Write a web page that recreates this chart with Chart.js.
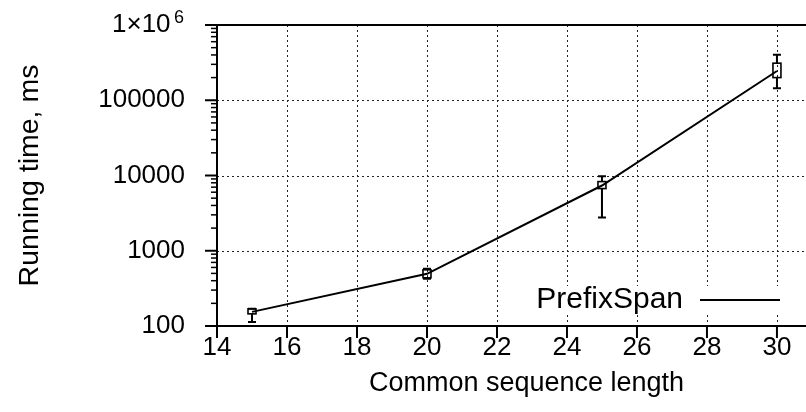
<!DOCTYPE html>
<html>
<head>
<meta charset="utf-8">
<script src="https://cdn.jsdelivr.net/npm/chart.js@4.4.0/dist/chart.umd.min.js"></script>
<style>
html, body { margin: 0; padding: 0; background: #fff; }
</style>
</head>
<body>
<canvas id="chart" width="806" height="412"></canvas>
<script>
// sequence length vs running time (ms), with spread per run
const lengths = [15, 20, 25, 30];
const runTime = [154, 494, 7360, 245000];
const boxLow = [145, 437, 6700, 200000];
const boxHigh = [169, 558, 8300, 311000];
const whiskerLow = [113, 424, 2760, 144000];
const whiskerHigh = [169, 575, 9800, 402000];

const xTicks = [14, 16, 18, 20, 22, 24, 26, 28, 30];
const yTicks = [100, 1000, 10000, 100000, 1000000];
const yTickLabels = ['100', '1000', '10000', '100000', '1×10^6'];

const FONT = 'Liberation Sans, Arial, sans-serif';

const frame = {
  id: 'frame',
  beforeDatasetsDraw(chart) {
    const { ctx, chartArea: a, scales: { x, y } } = chart;
    ctx.save();
    ctx.strokeStyle = '#222';
    ctx.lineWidth = 1;
    ctx.setLineDash([2, 3]);
    xTicks.forEach(v => {
      if (v === x.min) return;
      const px = Math.round(x.getPixelForValue(v)) + 0.5;
      ctx.beginPath(); ctx.moveTo(px, a.top); ctx.lineTo(px, a.bottom); ctx.stroke();
    });
    yTicks.forEach(v => {
      if (v === y.min || v === y.max) return;
      const py = Math.round(y.getPixelForValue(v)) + 0.5;
      ctx.beginPath(); ctx.moveTo(a.left, py); ctx.lineTo(a.right, py); ctx.stroke();
    });
    ctx.restore();
  },
  afterDatasetsDraw(chart) {
    const { ctx, chartArea: a, scales: { x, y } } = chart;
    ctx.save();
    ctx.strokeStyle = '#000';
    ctx.setLineDash([]);

    // candlesticks
    lengths.forEach((v, i) => {
      const px = x.getPixelForValue(v);
      const wl = y.getPixelForValue(whiskerLow[i]);
      const wh = y.getPixelForValue(whiskerHigh[i]);
      const bl = y.getPixelForValue(boxLow[i]);
      const bh = y.getPixelForValue(boxHigh[i]);
      ctx.lineWidth = 2;
      ctx.beginPath();
      ctx.moveTo(px, wl); ctx.lineTo(px, bl);
      ctx.moveTo(px, bh); ctx.lineTo(px, wh);
      ctx.moveTo(px - 4, wl); ctx.lineTo(px + 4, wl);
      ctx.moveTo(px - 4, wh); ctx.lineTo(px + 4, wh);
      ctx.stroke();
      ctx.lineWidth = 1.6;
      ctx.strokeRect(px - 4, bh, 8, bl - bh);
    });

    // axes border
    ctx.lineWidth = 2;
    ctx.beginPath();
    ctx.moveTo(a.left - 12, a.top); ctx.lineTo(a.right, a.top);
    ctx.moveTo(a.left, a.top); ctx.lineTo(a.left, a.bottom + 1);
    ctx.moveTo(a.left - 12, a.bottom); ctx.lineTo(a.right, a.bottom);
    ctx.stroke();

    // x ticks
    xTicks.forEach(v => {
      const px = x.getPixelForValue(v);
      ctx.beginPath(); ctx.moveTo(px, a.bottom); ctx.lineTo(px, a.bottom + 12); ctx.stroke();
    });
    // y minor ticks
    ctx.lineWidth = 1.5;
    for (let d = 100; d < 1000000; d *= 10) {
      for (let m = 2; m <= 9; m++) {
        const py = y.getPixelForValue(m * d);
        ctx.beginPath(); ctx.moveTo(a.left - 6, py); ctx.lineTo(a.left, py); ctx.stroke();
      }
    }
    ctx.lineWidth = 2;
    yTicks.forEach(v => {
      const py = y.getPixelForValue(v);
      ctx.beginPath(); ctx.moveTo(a.left - 12, py); ctx.lineTo(a.left, py); ctx.stroke();
    });

    // exponents of tick labels like 1×10^6
    ctx.fillStyle = '#000';
    ctx.font = '18px ' + FONT;
    ctx.textAlign = 'right';
    ctx.textBaseline = 'middle';
    yTickLabels.forEach((lab, i) => {
      const parts = lab.split('^');
      if (parts.length < 2) return;
      const py = y.getPixelForValue(yTicks[i]);
      ctx.fillText(parts[1], a.left - 33, py - 7);
    });

    // key
    const ky = a.bottom - 26;
    ctx.fillStyle = '#fff';
    ctx.fillRect(a.right - 282, ky - 14, 266, 28);
    ctx.fillStyle = '#000';
    ctx.font = '30px ' + FONT;
    ctx.fillText(chart.data.datasets[0].label, a.right - 123, ky);
    ctx.lineWidth = 2;
    ctx.beginPath(); ctx.moveTo(a.right - 106, ky); ctx.lineTo(a.right - 26, ky); ctx.stroke();

    // x title (centred on the full gnuplot plot width)
    ctx.font = '27px ' + FONT;
    ctx.textAlign = 'center';
    ctx.fillText('Common sequence length', (a.left + a.right) / 2 + 15, 384);
    ctx.restore();
  }
};

new Chart(document.getElementById('chart').getContext('2d'), {
  type: 'line',
  data: {
    datasets: [{
      label: 'PrefixSpan',
      data: lengths.map((v, i) => ({ x: v, y: runTime[i] })),
      borderColor: '#000',
      borderWidth: 2,
      pointRadius: 0,
      tension: 0,
      fill: false
    }]
  },
  options: {
    responsive: false,
    animation: false,
    layout: { padding: { top: 25, right: 0, left: 0, bottom: 0 } },
    plugins: { legend: { display: false }, tooltip: { enabled: false } },
    scales: {
      x: {
        type: 'linear',
        min: 14,
        max: 30.83,
        afterBuildTicks: s => { s.ticks = xTicks.map(v => ({ value: v })); },
        afterFit: s => { s.height = 86; s.paddingLeft = 0; s.paddingRight = 0; },
        grid: { display: false, drawTicks: false },
        border: { display: false },
        ticks: { color: '#000', font: { family: FONT, size: 26 }, padding: 6, maxRotation: 0, autoSkip: false }
      },
      y: {
        type: 'logarithmic',
        min: 100,
        max: 1000000,
        afterBuildTicks: s => { s.ticks = yTicks.map(v => ({ value: v, major: true })); },
        afterFit: s => { s.width = 217; s.paddingTop = 0; s.paddingBottom = 0; },
        grid: { display: false, drawTicks: false },
        border: { display: false },
        ticks: {
          color: '#000', font: { family: FONT, size: 26 }, padding: 32, autoSkip: false,
          // base part only; the exponent is drawn raised by the frame plugin
          callback: (v, i) => { const p = yTickLabels[i].split('^'); return p.length > 1 ? p[0] + '  ' : p[0]; }
        },
        title: { display: true, text: 'Running time, ms', color: '#000', font: { family: FONT, size: 28.5 }, padding: { top: 13, bottom: 0 } }
      }
    }
  },
  plugins: [frame]
});
</script>
</body>
</html>
